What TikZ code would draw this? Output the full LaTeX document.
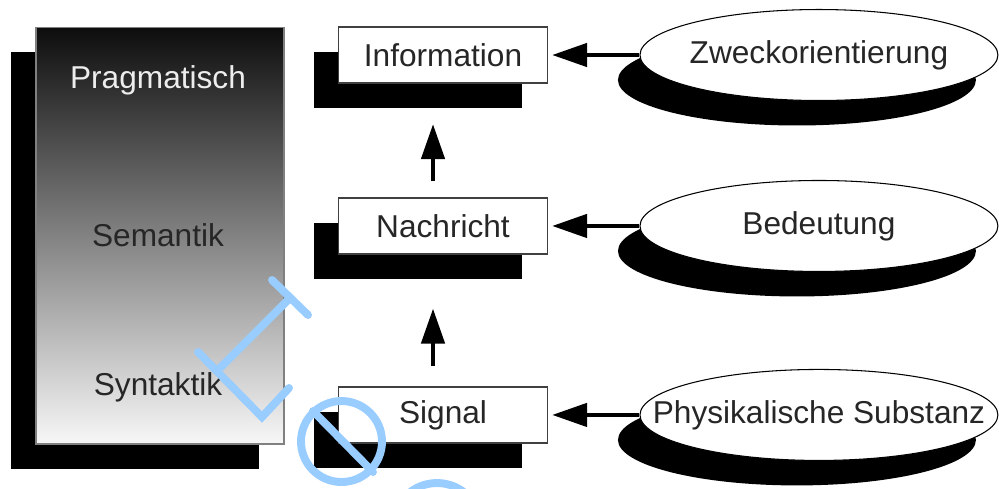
\documentclass[tikz,border=0pt]{standalone}
\usepackage{fontspec}
\setmainfont{Liberation Sans}
\usetikzlibrary{positioning, shadows, shapes.geometric, arrows.meta}
\definecolor{wmblue}{RGB}{153,204,255}

\begin{document}
\begin{tikzpicture}[x=0.02cm, y=-0.02cm, node distance=3.42cm, on grid,
    font=\fontsize{18}{21}\selectfont,
    schatten/.style={drop shadow={shadow xshift=-0.5cm, shadow yshift=-0.5cm, fill=black, opacity=1}},
    stufe/.style={rectangle, draw=black!50, line width=0.6pt, minimum width=4.96cm, minimum height=8.34cm,
        top color=black!95, bottom color=black!3, schatten},
    kasten/.style={rectangle, draw=black!75, line width=0.7pt, fill=white, text=black!85,
        minimum width=4.18cm, minimum height=1.12cm, inner sep=0pt, schatten},
    oval/.style={ellipse, draw=black, line width=0.6pt, fill=white, text=black!85,
        minimum width=7.16cm, minimum height=1.82cm, inner sep=0pt,
        drop shadow={shadow xshift=-0.44cm, shadow yshift=-0.5cm, fill=black, opacity=1}},
    pfeil/.style={line width=2.6pt, -{Triangle[length=0.7cm, width=0.46cm]}},
    wz/.style={draw=wmblue, line width=4.5pt, line cap=round}]
    \useasboundingbox (0,0) rectangle (999,488);

    % Ebenen
    \node[stufe] (ebenen) at (160,235.5) {};
    \node[text=white!93!black] (prag) at (158,80) {Pragmatisch};
    \node[text=black!85] (sem) at (158,235) {Semantik};
    \node[text=black!85] (syn) at (158,387) {Syntaktik};

    % Begriffe
    \node[kasten] (info) at (443,55) {Information};
    \node[kasten] (nachr) [below=of info] {Nachricht};
    \node[kasten] (signal) [below=3.78cm of nachr] {Signal};

    \node[oval] (zweck) [right=7.52cm of info] {\makebox[0pt]{Zweckorientierung}};
    \node[oval] (bed) [right=7.52cm of nachr] {\makebox[0pt]{Bedeutung}};
    \node[oval] (phys) [right=7.52cm of signal] {\makebox[0pt]{Physikalische Substanz}};

    \draw[pfeil, shorten >=0.08cm] (zweck.west) -- (info.east);
    \draw[pfeil, shorten >=0.08cm] (bed.west) -- (nachr.east);
    \draw[pfeil, shorten >=0.08cm] (phys.west) -- (signal.east);
    \draw[pfeil, shorten <=0.32cm, shorten >=0.81cm] ([xshift=-0.2cm]nachr.north) -- ([xshift=-0.2cm]info.south);
    \draw[pfeil, shorten <=0.4cm, shorten >=1.08cm] ([xshift=-0.2cm]signal.north) -- ([xshift=-0.2cm]nachr.south);

    % Wasserzeichen
    \draw[wz] (272,280) -- (308,315);
    \draw[wz] (290,298) -- (218,370);
    \draw[wz] (198,352) -- (262,417) -- (289,388);
    \draw[wz] (341.5,441.5) circle[radius=0.81cm];
    \draw[wz] (313,411) -- (373,472);
    \draw[wz] (437,527) circle[radius=0.88cm];
\end{tikzpicture}
\end{document}
